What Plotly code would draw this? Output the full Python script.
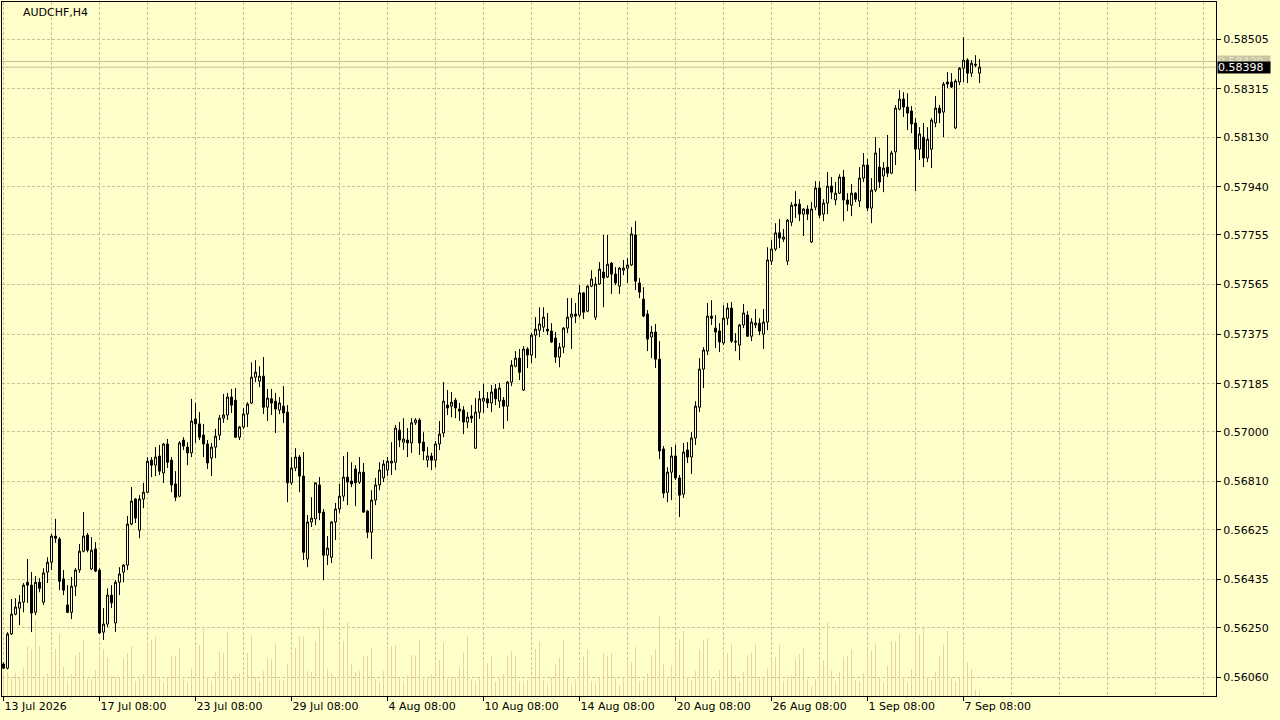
import plotly.graph_objects as go

chart_title = "AUDCHF,H4"

opens = [
    0.56111, 0.56095, 0.56226, 0.56302, 0.56325, 0.56348, 0.56424, 0.56413, 0.56309, 0.56424,
    0.56348, 0.56463, 0.56501, 0.56601, 0.56590, 0.56437, 0.56337, 0.56309, 0.56409, 0.56471,
    0.56543, 0.56605, 0.56475, 0.56552, 0.56471, 0.56233, 0.56264, 0.56375, 0.56268, 0.56424,
    0.56463, 0.56490, 0.56647, 0.56743, 0.56624, 0.56743, 0.56769, 0.56892, 0.56873, 0.56908,
    0.56843, 0.56954, 0.56892, 0.56801, 0.56754, 0.56969, 0.56942, 0.56920, 0.57050, 0.57031,
    0.56988, 0.56954, 0.56900, 0.56942, 0.56988, 0.57053, 0.57065, 0.57134, 0.57122, 0.56980,
    0.57019, 0.57069, 0.57111, 0.57210, 0.57195, 0.57214, 0.57095, 0.57127, 0.57118, 0.57084,
    0.57099, 0.57076, 0.56805, 0.56862, 0.56904, 0.56831, 0.56513, 0.56655, 0.56667, 0.56797,
    0.56693, 0.56528, 0.56520, 0.56655, 0.56705, 0.56754, 0.56827, 0.56812, 0.56858, 0.56808,
    0.56846, 0.56697, 0.56616, 0.56739, 0.56797, 0.56824, 0.56854, 0.56881, 0.56884, 0.57007,
    0.56961, 0.56969, 0.56958, 0.57035, 0.57046, 0.56961, 0.56892, 0.56908, 0.56892, 0.56954,
    0.56996, 0.57103, 0.57099, 0.57122, 0.57088, 0.57084, 0.57038, 0.57061, 0.56938, 0.57076,
    0.57118, 0.57127, 0.57111, 0.57165, 0.57118, 0.57122, 0.57099, 0.57191, 0.57252, 0.57283,
    0.57161, 0.57318, 0.57295, 0.57371, 0.57390, 0.57402, 0.57394, 0.57387, 0.57360, 0.57287,
    0.57325, 0.57398, 0.57440, 0.57452, 0.57448, 0.57533, 0.57463, 0.57559, 0.57440, 0.57567,
    0.57613, 0.57594, 0.57647, 0.57605, 0.57559, 0.57620, 0.57628, 0.57640, 0.57755, 0.57571,
    0.57509, 0.57452, 0.57364, 0.57383, 0.57279, 0.56935, 0.56769, 0.56846, 0.56908, 0.56824,
    0.56762, 0.56931, 0.56904, 0.56977, 0.57095, 0.57241, 0.57310, 0.57444, 0.57398, 0.57387,
    0.57341, 0.57436, 0.57475, 0.57348, 0.57333, 0.57410, 0.57448, 0.57367, 0.57410, 0.57417,
    0.57375, 0.57421, 0.57655, 0.57701, 0.57763, 0.57739, 0.57655, 0.57804, 0.57873, 0.57873,
    0.57835, 0.57854, 0.57728, 0.57862, 0.57935, 0.57835, 0.57877, 0.57942, 0.57889, 0.57915,
    0.57977, 0.57889, 0.57869, 0.57915, 0.57885, 0.57973, 0.58023, 0.57858, 0.57927, 0.58015,
    0.57981, 0.58015, 0.57992, 0.58073, 0.58237, 0.58276, 0.58245, 0.58230, 0.58184, 0.58084,
    0.58130, 0.58050, 0.58084, 0.58184, 0.58241, 0.58226, 0.58341, 0.58341, 0.58165, 0.58341,
    0.58394, 0.58425, 0.58375, 0.58409, 0.58375,
]

highs = [
    0.56118, 0.56233, 0.56360, 0.56363, 0.56375, 0.56421, 0.56513, 0.56463, 0.56448, 0.56440,
    0.56478, 0.56520, 0.56609, 0.56667, 0.56597, 0.56471, 0.56413, 0.56444, 0.56478, 0.56571,
    0.56693, 0.56613, 0.56597, 0.56578, 0.56478, 0.56325, 0.56401, 0.56413, 0.56432, 0.56482,
    0.56494, 0.56678, 0.56789, 0.56747, 0.56758, 0.56805, 0.56904, 0.56904, 0.56942, 0.56950,
    0.56958, 0.56973, 0.56904, 0.56850, 0.56965, 0.56980, 0.56961, 0.57127, 0.57111, 0.57076,
    0.57031, 0.56969, 0.56958, 0.57012, 0.57065, 0.57146, 0.57150, 0.57165, 0.57168, 0.57023,
    0.57092, 0.57114, 0.57267, 0.57275, 0.57252, 0.57287, 0.57165, 0.57165, 0.57150, 0.57134,
    0.57176, 0.57103, 0.56904, 0.56938, 0.56912, 0.56923, 0.56682, 0.56750, 0.56808, 0.56827,
    0.56705, 0.56601, 0.56658, 0.56728, 0.56801, 0.56908, 0.56923, 0.56884, 0.56873, 0.56904,
    0.56881, 0.56701, 0.56777, 0.56824, 0.56884, 0.56892, 0.56904, 0.56961, 0.57027, 0.57038,
    0.57053, 0.57015, 0.57053, 0.57053, 0.57053, 0.56999, 0.56942, 0.56920, 0.56965, 0.57042,
    0.57191, 0.57161, 0.57153, 0.57130, 0.57111, 0.57099, 0.57076, 0.57103, 0.57130, 0.57157,
    0.57184, 0.57153, 0.57180, 0.57184, 0.57188, 0.57134, 0.57195, 0.57275, 0.57310, 0.57318,
    0.57329, 0.57325, 0.57379, 0.57440, 0.57478, 0.57478, 0.57456, 0.57417, 0.57383, 0.57341,
    0.57402, 0.57513, 0.57513, 0.57494, 0.57563, 0.57536, 0.57563, 0.57620, 0.57594, 0.57651,
    0.57755, 0.57755, 0.57651, 0.57632, 0.57632, 0.57659, 0.57666, 0.57785, 0.57808, 0.57590,
    0.57555, 0.57467, 0.57406, 0.57414, 0.57348, 0.56946, 0.56865, 0.56942, 0.56950, 0.56835,
    0.56958, 0.56961, 0.56999, 0.57118, 0.57283, 0.57325, 0.57494, 0.57505, 0.57448, 0.57417,
    0.57486, 0.57494, 0.57498, 0.57379, 0.57414, 0.57490, 0.57463, 0.57436, 0.57471, 0.57436,
    0.57471, 0.57708, 0.57735, 0.57800, 0.57816, 0.57778, 0.57816, 0.57881, 0.57923, 0.57892,
    0.57858, 0.57869, 0.57881, 0.57961, 0.57961, 0.57892, 0.57996, 0.57977, 0.57958, 0.57988,
    0.58004, 0.57915, 0.57950, 0.57919, 0.58015, 0.58069, 0.58046, 0.57973, 0.58130, 0.58088,
    0.58034, 0.58138, 0.58077, 0.58253, 0.58310, 0.58302, 0.58298, 0.58249, 0.58203, 0.58168,
    0.58184, 0.58168, 0.58203, 0.58287, 0.58253, 0.58341, 0.58379, 0.58375, 0.58352, 0.58398,
    0.58513, 0.58432, 0.58425, 0.58444, 0.58429,
]

lows = [
    0.56092, 0.56090, 0.56222, 0.56298, 0.56260, 0.56309, 0.56345, 0.56233, 0.56298, 0.56386,
    0.56337, 0.56421, 0.56471, 0.56575, 0.56394, 0.56375, 0.56306, 0.56283, 0.56371, 0.56460,
    0.56539, 0.56539, 0.56471, 0.56463, 0.56226, 0.56203, 0.56252, 0.56325, 0.56233, 0.56375,
    0.56424, 0.56471, 0.56643, 0.56651, 0.56593, 0.56708, 0.56766, 0.56827, 0.56831, 0.56835,
    0.56805, 0.56862, 0.56769, 0.56735, 0.56750, 0.56931, 0.56873, 0.56904, 0.56958, 0.56969,
    0.56904, 0.56858, 0.56831, 0.56900, 0.56969, 0.57035, 0.57046, 0.57073, 0.56977, 0.56969,
    0.57012, 0.57019, 0.57107, 0.57191, 0.57172, 0.57069, 0.57042, 0.57065, 0.56996, 0.57069,
    0.57035, 0.56731, 0.56797, 0.56850, 0.56769, 0.56509, 0.56482, 0.56636, 0.56643, 0.56662,
    0.56432, 0.56490, 0.56498, 0.56586, 0.56690, 0.56735, 0.56720, 0.56789, 0.56716, 0.56801,
    0.56690, 0.56593, 0.56513, 0.56720, 0.56777, 0.56808, 0.56831, 0.56835, 0.56854, 0.56942,
    0.56931, 0.56904, 0.56920, 0.57027, 0.56912, 0.56892, 0.56865, 0.56854, 0.56865, 0.56931,
    0.56980, 0.57065, 0.57057, 0.57053, 0.57042, 0.56992, 0.57015, 0.57035, 0.56935, 0.57050,
    0.57073, 0.57092, 0.57076, 0.57103, 0.57092, 0.57012, 0.57042, 0.57176, 0.57248, 0.57199,
    0.57157, 0.57245, 0.57264, 0.57283, 0.57364, 0.57383, 0.57371, 0.57341, 0.57264, 0.57248,
    0.57302, 0.57379, 0.57318, 0.57417, 0.57440, 0.57433, 0.57459, 0.57555, 0.57429, 0.57563,
    0.57478, 0.57590, 0.57529, 0.57563, 0.57529, 0.57601, 0.57571, 0.57636, 0.57544, 0.57513,
    0.57440, 0.57310, 0.57283, 0.57245, 0.56896, 0.56747, 0.56731, 0.56739, 0.56816, 0.56674,
    0.56747, 0.56881, 0.56839, 0.56950, 0.57076, 0.57168, 0.57295, 0.57410, 0.57322, 0.57306,
    0.57333, 0.57410, 0.57341, 0.57310, 0.57275, 0.57398, 0.57364, 0.57348, 0.57398, 0.57371,
    0.57318, 0.57390, 0.57640, 0.57693, 0.57705, 0.57728, 0.57640, 0.57789, 0.57820, 0.57808,
    0.57751, 0.57812, 0.57724, 0.57850, 0.57820, 0.57808, 0.57835, 0.57892, 0.57869, 0.57912,
    0.57808, 0.57846, 0.57827, 0.57881, 0.57862, 0.57958, 0.57846, 0.57800, 0.57919, 0.57935,
    0.57919, 0.57977, 0.57988, 0.58023, 0.58233, 0.58207, 0.58157, 0.58145, 0.57923, 0.58042,
    0.58015, 0.58034, 0.58011, 0.58168, 0.58184, 0.58130, 0.58318, 0.58318, 0.58161, 0.58329,
    0.58341, 0.58337, 0.58360, 0.58398, 0.58337,
]

closes = [
    0.56095, 0.56226, 0.56302, 0.56329, 0.56348, 0.56413, 0.56413, 0.56306, 0.56424, 0.56401,
    0.56460, 0.56501, 0.56601, 0.56593, 0.56428, 0.56394, 0.56309, 0.56409, 0.56471, 0.56543,
    0.56601, 0.56547, 0.56547, 0.56467, 0.56230, 0.56264, 0.56375, 0.56345, 0.56424, 0.56456,
    0.56490, 0.56647, 0.56735, 0.56670, 0.56743, 0.56769, 0.56888, 0.56873, 0.56904, 0.56850,
    0.56954, 0.56884, 0.56797, 0.56750, 0.56958, 0.56946, 0.56920, 0.57042, 0.57031, 0.56980,
    0.56954, 0.56881, 0.56942, 0.56984, 0.57053, 0.57065, 0.57134, 0.57103, 0.56980, 0.57019,
    0.57069, 0.57107, 0.57210, 0.57229, 0.57214, 0.57095, 0.57130, 0.57111, 0.57088, 0.57111,
    0.57073, 0.56805, 0.56862, 0.56904, 0.56831, 0.56539, 0.56655, 0.56670, 0.56805, 0.56690,
    0.56528, 0.56555, 0.56655, 0.56705, 0.56754, 0.56827, 0.56808, 0.56801, 0.56805, 0.56846,
    0.56693, 0.56616, 0.56739, 0.56797, 0.56854, 0.56877, 0.56888, 0.56888, 0.57015, 0.56969,
    0.56973, 0.56958, 0.57035, 0.57046, 0.56958, 0.56927, 0.56908, 0.56892, 0.56954, 0.56992,
    0.57118, 0.57092, 0.57114, 0.57092, 0.57080, 0.57038, 0.57057, 0.57053, 0.57076, 0.57127,
    0.57130, 0.57111, 0.57153, 0.57127, 0.57168, 0.57099, 0.57191, 0.57256, 0.57283, 0.57229,
    0.57318, 0.57295, 0.57371, 0.57394, 0.57414, 0.57440, 0.57387, 0.57345, 0.57287, 0.57325,
    0.57398, 0.57440, 0.57452, 0.57444, 0.57533, 0.57459, 0.57559, 0.57586, 0.57567, 0.57624,
    0.57590, 0.57643, 0.57605, 0.57571, 0.57628, 0.57628, 0.57640, 0.57759, 0.57578, 0.57536,
    0.57444, 0.57356, 0.57383, 0.57279, 0.56927, 0.56766, 0.56846, 0.56908, 0.56824, 0.56758,
    0.56923, 0.56904, 0.56977, 0.57099, 0.57241, 0.57314, 0.57444, 0.57436, 0.57383, 0.57345,
    0.57436, 0.57475, 0.57348, 0.57345, 0.57410, 0.57456, 0.57367, 0.57421, 0.57417, 0.57387,
    0.57421, 0.57659, 0.57701, 0.57763, 0.57743, 0.57747, 0.57812, 0.57869, 0.57866, 0.57835,
    0.57854, 0.57835, 0.57854, 0.57935, 0.57831, 0.57877, 0.57942, 0.57919, 0.57915, 0.57977,
    0.57889, 0.57873, 0.57915, 0.57892, 0.57973, 0.58023, 0.57858, 0.57927, 0.58069, 0.57958,
    0.58011, 0.57992, 0.58069, 0.58241, 0.58276, 0.58245, 0.58222, 0.58180, 0.58084, 0.58142,
    0.58050, 0.58122, 0.58195, 0.58241, 0.58222, 0.58333, 0.58333, 0.58322, 0.58345, 0.58394,
    0.58425, 0.58375, 0.58413, 0.58406, 0.58398,
]

volumes = [
    950, 720, 550, 700, 550, 850, 1500, 1400, 2280, 1500,
    500, 680, 1250, 1420, 1850, 880, 450, 650, 1220, 1320,
    1700, 520, 520, 780, 1420, 1420, 1150, 600, 580, 580,
    1120, 1280, 1500, 450, 520, 650, 1620, 1680, 1780, 520,
    400, 550, 1200, 1200, 1450, 520, 400, 820, 1450, 1520,
    2020, 580, 450, 720, 1330, 1300, 1900, 500, 650, 680,
    580, 1280, 1820, 580, 420, 750, 1150, 1100, 1580, 500,
    480, 950, 1220, 1450, 1800, 1780, 750, 720, 1620, 2020,
    2600, 820, 680, 580, 1500, 1650, 2220, 950, 720, 750,
    1200, 1200, 1450, 500, 400, 750, 1420, 1500, 1520, 550,
    450, 620, 1220, 1220, 1680, 520, 520, 650, 1020, 1080,
    1600, 520, 550, 550, 850, 1320, 1800, 500, 450, 520,
    1050, 980, 1220, 420, 580, 650, 1200, 1350, 1200, 450,
    450, 480, 580, 1400, 1620, 480, 350, 580, 950, 1150,
    1680, 530, 350, 500, 900, 1200, 1380, 450, 380, 580,
    1280, 1200, 1280, 530, 320, 580, 1050, 1020, 1470, 450,
    480, 680, 1220, 1400, 2380, 950, 520, 930, 1400, 1700,
    1950, 580, 480, 750, 1400, 1680, 1730, 530, 470, 780,
    1280, 1300, 1550, 620, 420, 720, 1220, 1300, 1550, 520,
    520, 830, 1100, 1170, 1530, 450, 500, 620, 1100, 1250,
    1420, 500, 280, 500, 1050, 1070, 2220, 750, 450, 720,
    1170, 1200, 1380, 480, 420, 680, 1400, 1350, 1580, 580,
    400, 900, 1630, 1650, 1850, 580, 400, 800, 1800, 1820,
    2050, 580, 480, 720, 1200, 1550, 1950, 550, 420, 580,
    1400, 1020, 800, 180, 150,
]

time_tick_index = [0, 24, 48, 72, 96, 120, 144, 168, 192, 216, 240]
time_tick_text = ["13 Jul 2026", "17 Jul 08:00", "23 Jul 08:00", "29 Jul 08:00",
                  "4 Aug 08:00", "10 Aug 08:00", "14 Aug 08:00", "20 Aug 08:00",
                  "26 Aug 08:00", "1 Sep 08:00", "7 Sep 08:00"]

price_ticks = [0.56060, 0.56250, 0.56435, 0.56625, 0.56810, 0.57000, 0.57185,
               0.57375, 0.57565, 0.57755, 0.57940, 0.58130, 0.58315, 0.58505]

bid_price = 0.58398
ask_price = 0.58420

BG = "#FFFFCC"
GRID = "#C8C096"
VOLC = "#E6D598"
LEVEL = "#C2BD9A"
FONT = "DejaVu Sans"

bar_index = list(range(len(opens)))

fig = go.Figure()

fig.add_trace(go.Bar(
    x=bar_index, y=volumes, width=0.25, yaxis="y",
    marker=dict(color=VOLC, line=dict(width=0)),
    hoverinfo="skip", showlegend=False,
))

fig.add_trace(go.Candlestick(
    x=bar_index, open=opens, high=highs, low=lows, close=closes, yaxis="y2",
    increasing=dict(line=dict(color="black", width=1), fillcolor=BG),
    decreasing=dict(line=dict(color="black", width=1), fillcolor="black"),
    whiskerwidth=0, showlegend=False,
))

for lvl in (ask_price, bid_price):
    fig.add_shape(type="line", xref="paper", x0=0, x1=1, yref="y2", y0=lvl, y1=lvl,
                  line=dict(color=LEVEL, width=1), layer="below")

fig.add_annotation(text=f"{ask_price:.5f}", xref="paper", x=1, xanchor="left", xshift=1,
                   yref="y2", y=ask_price, yanchor="middle", showarrow=False,
                   width=52, height=11, bgcolor="#C9C5A3", borderpad=0, align="left",
                   font=dict(family=FONT, size=11, color="#E4E2CC"))
fig.add_annotation(text=f"{bid_price:.5f}", xref="paper", x=1, xanchor="left", xshift=1,
                   yref="y2", y=bid_price, yanchor="middle", showarrow=False,
                   width=52, height=11, bgcolor="black", borderpad=0, align="left",
                   font=dict(family=FONT, size=11, color="white"))

fig.add_annotation(text=chart_title, xref="paper", x=19 / 1214, xanchor="left",
                   yref="paper", y=1 - 11 / 694, yanchor="middle", showarrow=False,
                   font=dict(family=FONT, size=11, color="black"))

fig.update_layout(
    width=1280, height=720,
    margin=dict(l=2, r=64, t=2, b=24),
    paper_bgcolor=BG, plot_bgcolor=BG,
    showlegend=False,
    boxgap=0.5, boxgroupgap=0,
    font=dict(family=FONT, size=11, color="black"),
    xaxis=dict(
        range=[-0.375, 303.125],
        tickmode="array", tickvals=time_tick_index, ticktext=time_tick_text,
        ticks="outside", ticklen=4, tickcolor="black", tickwidth=1,
        ticklabelposition="outside right",
        showgrid=True, gridcolor=GRID, griddash="3px,2px", gridwidth=1,
        minor=dict(tick0=0, dtick=12, showgrid=True, gridcolor=GRID,
                   griddash="3px,2px", gridwidth=1, ticks=""),
        showline=True, linecolor="black", linewidth=1, mirror=True,
        zeroline=False, rangeslider=dict(visible=False), fixedrange=True,
    ),
    yaxis=dict(
        range=[0, 20820], showgrid=False, zeroline=False, showticklabels=False,
        ticks="", showline=True, linecolor="black", linewidth=1, fixedrange=True,
    ),
    yaxis2=dict(
        overlaying="y", side="right", range=[0.559883, 0.586477],
        tickmode="array", tickvals=price_ticks, tickformat=".5f",
        ticks="outside", ticklen=4, tickcolor="black", tickwidth=1,
        showgrid=True, gridcolor=GRID, griddash="3px,2px", gridwidth=1,
        showline=True, linecolor="black", linewidth=1, zeroline=False,
        fixedrange=True,
    ),
)

fig.write_html(
    "out.html",
    config={"displayModeBar": False},
    post_script="document.body.style.margin='0px';document.body.style.padding='0px';"
                "document.body.style.background='" + BG + "';",
)
